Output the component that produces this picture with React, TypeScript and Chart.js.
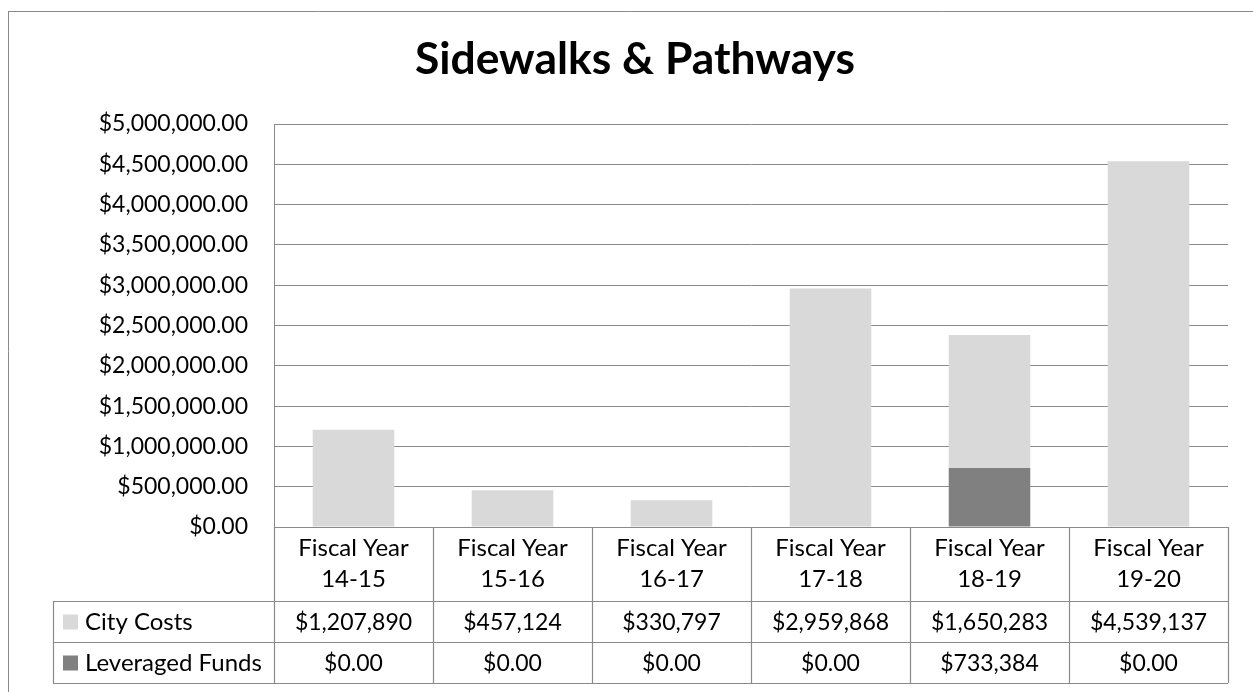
import React, { useEffect, useRef } from "react";
import { Chart, registerables } from "chart.js";

Chart.register(...registerables);

const chartTitle = "Sidewalks & Pathways";
const categories = [
  ["Fiscal Year", "14-15"],
  ["Fiscal Year", "15-16"],
  ["Fiscal Year", "16-17"],
  ["Fiscal Year", "17-18"],
  ["Fiscal Year", "18-19"],
  ["Fiscal Year", "19-20"],
];
const seriesNames = ["City Costs", "Leveraged Funds"];
const cityCosts = [1207890, 457124, 330797, 2959868, 1650283, 4539137];
const leveragedFunds = [0, 0, 0, 0, 733384, 0];
const cityCostsText = ["$1,207,890", "$457,124", "$330,797", "$2,959,868", "$1,650,283", "$4,539,137"];
const leveragedFundsText = ["$0.00", "$0.00", "$0.00", "$0.00", "$733,384", "$0.00"];
const yMin = 0;
const yMax = 5000000;
const yStep = 500000;

const FONT = "Lato, 'Open Sans', sans-serif";
const CITY_COLOR = "#d9d9d9";
const LEV_COLOR = "#808080";
const LINE_COLOR = "#8a8a8a";

const W = 1245;
const H = 681;

function fmtAxis(v: number) {
  return (
    "$" +
    v.toLocaleString("en-US", { minimumFractionDigits: 2, maximumFractionDigits: 2 })
  );
}

const tablePlugin = {
  id: "excelTable",
  afterDraw(chart: any) {
    const ctx = chart.ctx as CanvasRenderingContext2D;
    const area = chart.chartArea;
    const xs = chart.scales.x;
    const n = categories.length;
    const left = area.left;
    const right = area.right;
    const colW = (right - left) / n;
    const top = area.bottom;
    const headerBottom = top + 74;
    const row1Bottom = headerBottom + 41;
    const row2Bottom = row1Bottom + 41;
    const tableLeft = 45;

    ctx.save();
    // outer chart border (top and left visible)
    ctx.strokeStyle = LINE_COLOR;
    ctx.lineWidth = 1;
    ctx.beginPath();
    ctx.moveTo(0, 0.5);
    ctx.lineTo(W, 0.5);
    ctx.moveTo(0.5, 0);
    ctx.lineTo(0.5, H);
    ctx.stroke();

    // title
    ctx.fillStyle = "#000";
    ctx.textAlign = "center";
    ctx.textBaseline = "middle";
    ctx.font = `bold 100px ${FONT}`;
    const tw = ctx.measureText(chartTitle).width;
    const size = (100 * 440) / tw;
    ctx.font = `bold ${size.toFixed(1)}px ${FONT}`;
    ctx.fillText(chartTitle, 627, 49);

    // table lines
    ctx.strokeStyle = LINE_COLOR;
    ctx.lineWidth = 1.2;
    ctx.beginPath();
    const hl = (y: number, x0: number, x1: number) => {
      ctx.moveTo(x0, Math.round(y) + 0.5);
      ctx.lineTo(x1, Math.round(y) + 0.5);
    };
    const vl = (x: number, y0: number, y1: number) => {
      ctx.moveTo(Math.round(x) + 0.5, y0);
      ctx.lineTo(Math.round(x) + 0.5, y1);
    };
    hl(top, left, right);
    hl(headerBottom, tableLeft, right);
    hl(row1Bottom, tableLeft, right);
    hl(row2Bottom, tableLeft, right);
    for (let i = 0; i <= n; i++) {
      vl(left + i * colW, top, row2Bottom);
    }
    vl(tableLeft, headerBottom, row2Bottom);
    ctx.stroke();

    // header text
    ctx.fillStyle = "#000";
    ctx.font = `24px ${FONT}`;
    ctx.textAlign = "center";
    ctx.textBaseline = "middle";
    for (let i = 0; i < n; i++) {
      const cx = xs.getPixelForValue(i);
      ctx.fillText(categories[i][0], cx, top + 21);
      ctx.fillText(categories[i][1], cx, top + 52);
    }
    // rows
    const rowMid1 = (headerBottom + row1Bottom) / 2 + 1;
    const rowMid2 = (row1Bottom + row2Bottom) / 2 + 1;
    ctx.font = `23px ${FONT}`;
    for (let i = 0; i < n; i++) {
      const cx = xs.getPixelForValue(i);
      ctx.fillText(cityCostsText[i], cx, rowMid1);
      ctx.fillText(leveragedFundsText[i], cx, rowMid2);
    }
    // legend keys
    ctx.fillStyle = CITY_COLOR;
    ctx.fillRect(55, rowMid1 - 8, 15, 15);
    ctx.fillStyle = LEV_COLOR;
    ctx.fillRect(55, rowMid2 - 8, 15, 15);
    ctx.fillStyle = "#000";
    ctx.textAlign = "left";
    ctx.font = `24px ${FONT}`;
    ctx.fillText(seriesNames[0], 77, rowMid1);
    ctx.fillText(seriesNames[1], 77, rowMid2);
    ctx.restore();
  },
};

export default function App() {
  const ref = useRef<HTMLCanvasElement>(null);
  useEffect(() => {
    if (!ref.current) return;
    const chart = new Chart(ref.current, {
      type: "bar",
      data: {
        labels: categories.map((c) => c.join(" ")),
        datasets: [
          {
            label: seriesNames[1],
            data: leveragedFunds,
            backgroundColor: LEV_COLOR,
            borderWidth: 0,
            barPercentage: 0.513,
            categoryPercentage: 1,
          },
          {
            label: seriesNames[0],
            data: cityCosts,
            backgroundColor: CITY_COLOR,
            borderWidth: 0,
            barPercentage: 0.513,
            categoryPercentage: 1,
          },
        ],
      },
      options: {
        responsive: false,
        animation: false,
        events: [],
        layout: { padding: { left: 0, right: 25, top: 113, bottom: 165 } },
        plugins: {
          legend: { display: false },
          title: { display: false },
          tooltip: { enabled: false },
        },
        scales: {
          x: {
            display: false,
            stacked: true,
          },
          y: {
            stacked: true,
            min: yMin,
            max: yMax,
            ticks: {
              stepSize: yStep,
              padding: 26,
              color: "#000",
              font: { family: FONT, size: 23 },
              callback: (v: any) => fmtAxis(Number(v)),
            },
            grid: { color: LINE_COLOR, lineWidth: 1, drawTicks: false },
            border: { display: true, color: LINE_COLOR, width: 1 },
            afterFit: (scale: any) => {
              scale.width = 266;
            },
          },
        },
      },
      plugins: [tablePlugin],
    });
    return () => chart.destroy();
  }, []);
  return (
    <div
      style={{
        position: "fixed",
        left: 8,
        top: 11,
        width: W,
        height: H,
        background: "#fff",
      }}
    >
      <canvas ref={ref} width={W} height={H} style={{ width: W, height: H, display: "block" }} />
    </div>
  );
}
